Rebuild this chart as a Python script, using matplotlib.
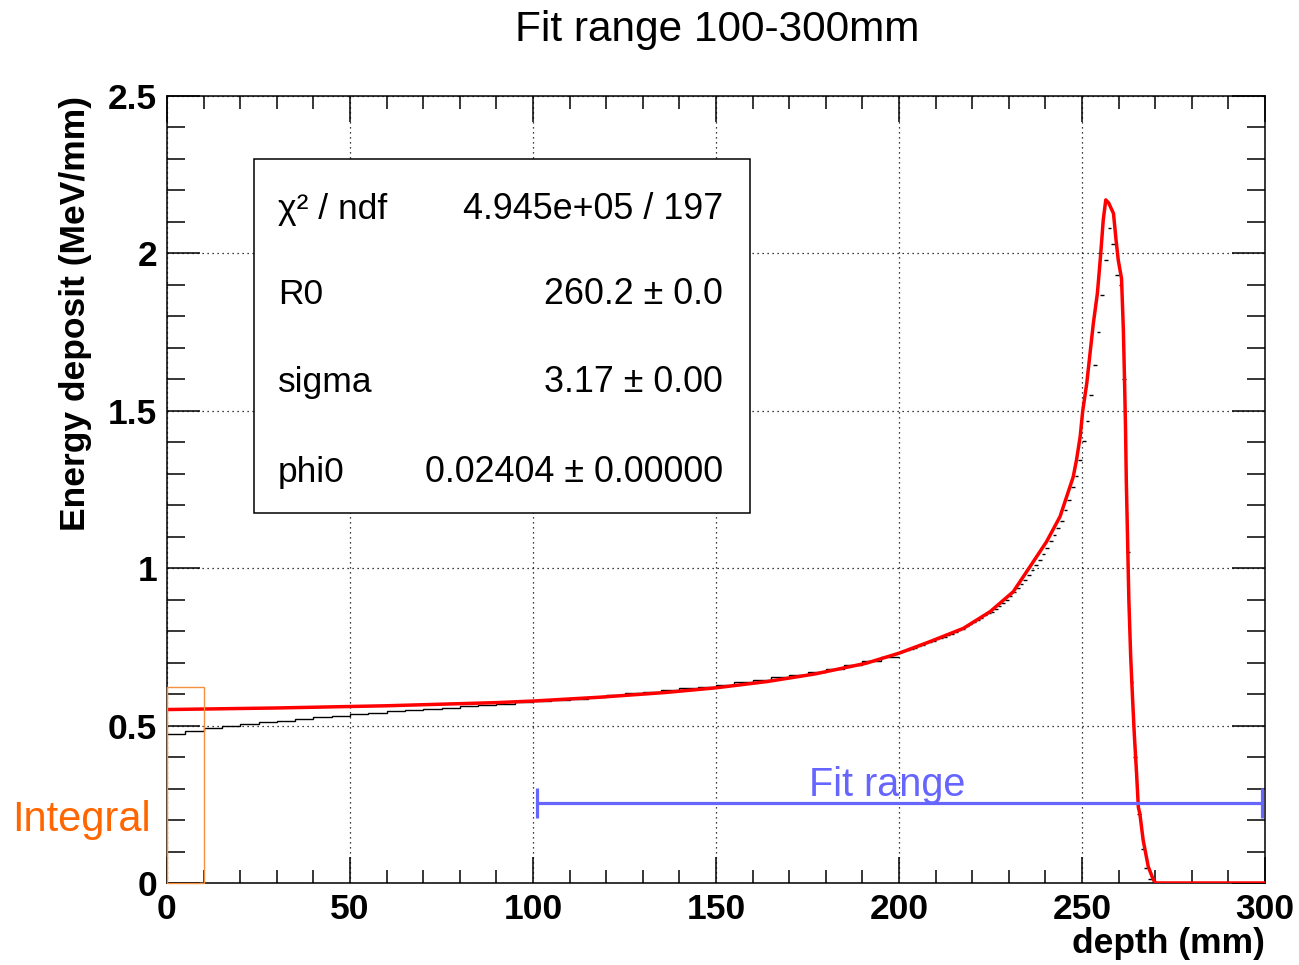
import numpy as np
import matplotlib.pyplot as plt
from matplotlib.patches import Rectangle

plt.rcParams['font.family'] = ['Liberation Sans', 'DejaVu Sans']

# гистограмма (чёрная): бины по 5 мм до 200 мм, дальше по 1 мм
edges_coarse = np.arange(0, 201, 5)
vals_coarse = [0.472, 0.484, 0.491, 0.498, 0.504, 0.510, 0.516, 0.522, 0.527, 0.532,
               0.537, 0.541, 0.545, 0.549, 0.553, 0.557, 0.562, 0.566, 0.570, 0.574,
               0.578, 0.582, 0.586, 0.592, 0.597, 0.602, 0.607, 0.612, 0.618, 0.624,
               0.630, 0.637, 0.645, 0.653, 0.662, 0.671, 0.681, 0.692, 0.705, 0.719]
edges_fine = np.arange(200, 301, 1)
vals_fine = [0.733, 0.736, 0.740, 0.744, 0.748, 0.752, 0.756, 0.761, 0.766, 0.770,
             0.774, 0.778, 0.783, 0.787, 0.792, 0.797, 0.803, 0.808, 0.815, 0.822,
             0.829, 0.836, 0.843, 0.850, 0.857,
             0.860, 0.869, 0.879, 0.889, 0.900, 0.911, 0.923, 0.936, 0.950, 0.964,
             0.979, 0.994, 1.010, 1.027, 1.045,
             1.065, 1.085, 1.105, 1.128, 1.151, 1.185, 1.217, 1.257, 1.293, 1.344,
             1.405, 1.469, 1.550, 1.645, 1.751, 1.868, 1.980, 2.080, 2.030, 1.930,
             1.900, 1.600, 1.050, 0.640, 0.400, 0.220, 0.107, 0.047, 0.012, 0.002] + [0.0] * 30

# фит (красная кривая)
fit_x = [0, 30, 60, 90, 100, 118, 136, 150, 164, 177,
         191, 200, 208.5, 217.6, 224.9, 231.2, 235.8, 240.3, 244.0, 245.8,
         247.6, 248.5, 249.5, 250.2, 251.3, 252.2, 253.1, 254.2, 254.9, 255.4,
         255.8, 256.5, 257.3, 258.6, 259.3, 259.9, 260.8, 261.3, 261.6, 261.9,
         262.1, 262.4, 262.8, 263.3, 263.8, 264.3, 264.9, 265.4, 265.8, 266.7,
         268.1, 269.5, 270.2, 300]
fit_y = [0.551, 0.556, 0.563, 0.573, 0.578, 0.590, 0.605, 0.620, 0.640, 0.664,
         0.698, 0.730, 0.767, 0.809, 0.862, 0.925, 1.005, 1.084, 1.164, 1.227,
         1.290, 1.344, 1.418, 1.500, 1.587, 1.683, 1.778, 1.873, 1.968, 2.043,
         2.106, 2.170, 2.160, 2.127, 2.043, 1.979, 1.920, 1.757, 1.608, 1.440,
         1.280, 1.120, 0.900, 0.720, 0.590, 0.470, 0.350, 0.240, 0.221, 0.137,
         0.052, 0.010, 0.0, 0.0]

stat_names = ['χ² / ndf', 'R0', 'sigma', 'phi0']
stat_values = ['4.945e+05 / 197', '260.2 ± 0.0', '3.17 ± 0.00', '0.02404 ± 0.00000']

fit_bar = [101, 299.2]
fit_bar_y = 0.254
integral_box = [0, 10.2, 0.623]

blue = '#6666ff'
orange = '#ff6600'

fig = plt.figure(figsize=(12.99, 9.65), dpi=100)
ax = fig.add_axes([167/1299, 82/965, 1098/1299, 787/965])

# пологая часть - ступеньками, пик - отдельными чёрточками (как error bars в ROOT)
ax.stairs(vals_coarse, edges_coarse, baseline=None, color='black', lw=1.0, zorder=3)
ax.hlines(vals_fine, edges_fine[:-1], edges_fine[1:], color='black', lw=1.0, zorder=3)
ax.plot(fit_x, fit_y, color='red', lw=2.5, zorder=4)

ax.set_xlim(0, 300)
ax.set_ylim(0, 2.5)
ax.set_xticks(np.arange(0, 301, 50))
ax.set_xticks(np.arange(0, 301, 10), minor=True)
ax.set_yticks(np.arange(0, 2.51, 0.5))
ax.set_yticks(np.arange(0, 2.51, 0.1), minor=True)
ax.set_yticklabels(['%g' % v for v in np.arange(0, 2.51, 0.5)])
ax.grid(which='major', color='black', linestyle=(0, (1, 3)), lw=0.9, zorder=1)
ax.tick_params(which='both', direction='in', top=True, right=True, width=1.1,
               labelsize=25.5, pad=7)
ax.tick_params(axis='x', which='major', length=18.5)
ax.tick_params(axis='x', which='minor', length=9.3)
ax.tick_params(axis='y', which='major', length=23.8)
ax.tick_params(axis='y', which='minor', length=13)
for lab in ax.get_xticklabels() + ax.get_yticklabels():
    lab.set_fontweight('bold')
for s in ax.spines.values():
    s.set_linewidth(1.1)

# окно со статистикой
ax.add_patch(Rectangle((0.0792, 0.4698), 0.5309 - 0.0792, 0.9196 - 0.4698,
                       transform=ax.transAxes, facecolor='white', edgecolor='black',
                       lw=1.1, zorder=5))
rows_y = [0.8437, 0.7357, 0.6243, 0.5099]
for name, val, yy in zip(stat_names, stat_values, rows_y):
    ax.text(0.1011, yy, name, transform=ax.transAxes, fontsize=25.5,
            ha='left', va='baseline', zorder=6)
    ax.text(0.5064, yy, val, transform=ax.transAxes, fontsize=25.8,
            ha='right', va='baseline', zorder=6)

# диапазон фита
ax.plot(fit_bar, [fit_bar_y, fit_bar_y], color=blue, lw=2.3, zorder=5)
ax.vlines(fit_bar, fit_bar_y - 0.048, fit_bar_y + 0.048, color=blue, lw=2.3, zorder=5)
ax.text(196.7, 0.311, 'Fit range', color=blue, fontsize=28.5, ha='center', va='center')

# интеграл
ax.add_patch(Rectangle((integral_box[0], 0), integral_box[1], integral_box[2],
                       fill=False, edgecolor='#f5913e', lw=1.0, zorder=6, clip_on=False))
ax.text(-23.4, 0.2, 'Integral', color=orange, fontsize=30, ha='center', va='center',
        clip_on=False)

fig.text(717/1299, 1 - 30/965, 'Fit range 100-300mm', fontsize=30.5, ha='center', va='center')
fig.text(1265/1299, 1 - 944/965, 'depth (mm)', fontsize=25.5, fontweight='bold',
         ha='right', va='center')
fig.text(76/1299, 1 - 96/965, 'Energy deposit (MeV/mm)', fontsize=25.5, fontweight='bold',
         rotation=90, ha='center', va='top')

fig.savefig('out.png', dpi=100)
